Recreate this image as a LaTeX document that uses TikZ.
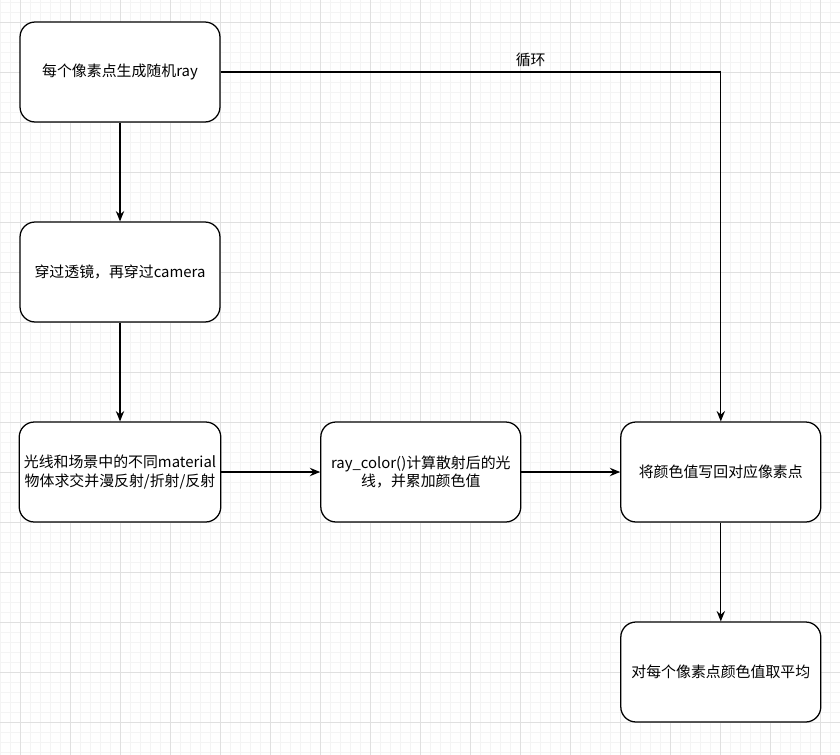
\documentclass[tikz,border=0pt]{standalone}
\usepackage{fontspec}
\setmainfont{Noto Sans CJK SC}
\usetikzlibrary{positioning,arrows.meta}
\usepackage{xcolor}
\definecolor{GridMinor}{RGB}{244,244,244}
\definecolor{GridMajor}{RGB}{224,224,224}

\begin{document}
\begin{tikzpicture}[
node distance=2.5cm-0.9pt,
box/.style={rectangle,rounded corners=0.38cm,draw=black,fill=white,line width=0.9pt,
minimum width=5cm,minimum height=2.5cm,align=center,font=\fontsize{10.6}{13.5}\selectfont},
arrow/.style={-{Stealth[length=2.6mm,width=2.1mm,inset=0.9mm]},line width=0.9pt}
]
\useasboundingbox (0,0) rectangle (21,-18.875);
% grid
\foreach \x in {0,0.25,...,21} \draw[GridMinor,line width=0.5pt] (\x,0) -- (\x,-18.875);
\foreach \y in {-0.05,-0.3,...,-18.875} \draw[GridMinor,line width=0.5pt] (0,\y) -- (21,\y);
\foreach \x in {0.5,1.75,...,21} \draw[GridMajor,line width=0.5pt] (\x,0) -- (\x,-18.875);
\foreach \y in {-0.55,-1.8,...,-18.875} \draw[GridMajor,line width=0.5pt] (0,\y) -- (21,\y);

\node[box] (a) at (3,-1.8) {每个像素点生成随机ray};
\node[box,below=of a] (b) {穿过透镜，再穿过camera};
\node[box,below=of b] (c) {光线和场景中的不同material\\物体求交并漫反射/折射/反射};
\node[box,right=of c] (d) {ray\_color()计算散射后的光\\线，并累加颜色值};
\node[box,right=of d] (e) {将颜色值写回对应像素点};
\node[box,below=of e] (f) {对每个像素点颜色值取平均};
\draw[arrow] (a)--(b); \draw[arrow] (b)--(c); \draw[arrow] (c)--(d); \draw[arrow] (d)--(e); \draw[arrow] (e)--(f);
\draw[arrow] (a.east) -| node[pos=0.31,above,font=\fontsize{10.6}{13.5}\selectfont] {循环} (e.north);
\end{tikzpicture}
\end{document}
